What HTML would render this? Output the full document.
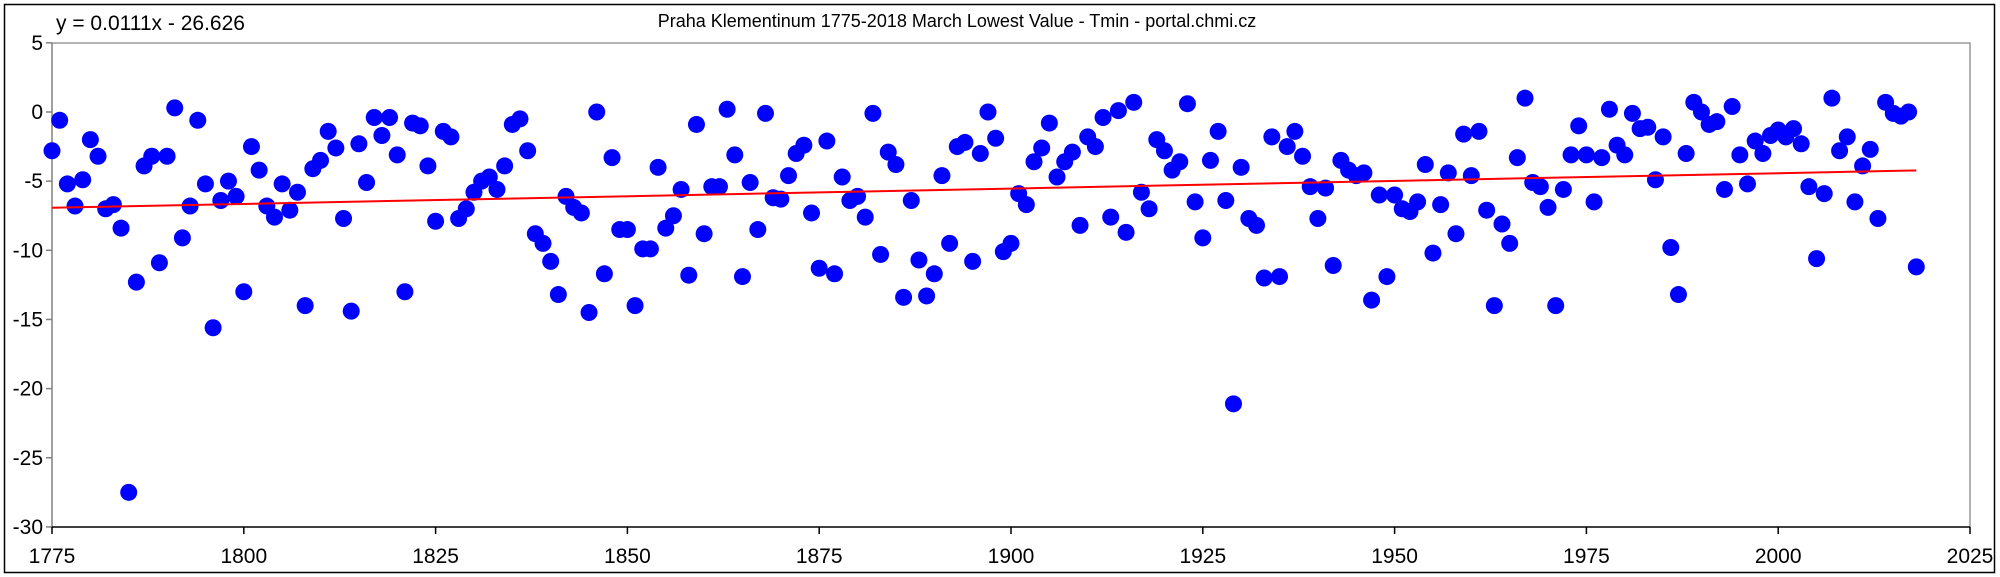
<!DOCTYPE html>
<html><head><meta charset="utf-8"><style>
html,body{margin:0;padding:0;background:#fff;}
svg{display:block;font-family:"Liberation Sans",Arial,sans-serif;}
</style></head><body>
<svg id="c" width="2000" height="577" viewBox="0 0 2000 577" xmlns="http://www.w3.org/2000/svg">
<rect x="0" y="0" width="2000" height="577" fill="#fff"/>
<rect x="4.5" y="4.5" width="1990" height="568" fill="none" stroke="#000" stroke-width="1.5"/>
<polyline points="52,43 1970,43 1970,527" fill="none" stroke="#999" stroke-width="1.5"/>
<line x1="52" y1="43" x2="52" y2="527" stroke="#808080" stroke-width="1.5"/>
<line x1="52" y1="527" x2="1970" y2="527" stroke="#000" stroke-width="1.5"/>
<text x="56" y="30" font-size="21">y = 0.0111x - 26.626</text>
<text x="957" y="27" font-size="18" text-anchor="middle">Praha Klementinum 1775-2018 March Lowest Value - Tmin - portal.chmi.cz</text>
<g id="ax" font-size="21"></g>
<g id="pts" fill="#0000ff"></g>
<line id="tr" stroke="#ff0000" stroke-width="2"/>
</svg>
<script>
var d=[-2.8,-0.6,-5.2,-6.8,-4.9,-2.0,-3.2,-7.0,-6.7,-8.4,-27.5,-12.3,-3.9,-3.2,-10.9,-3.2,0.3,-9.1,-6.8,-0.6,-5.2,-15.6,-6.4,-5.0,-6.1,-13.0,-2.5,-4.2,-6.8,-7.6,-5.2,-7.1,-5.8,-14.0,-4.1,-3.5,-1.4,-2.6,-7.7,-14.4,-2.3,-5.1,-0.4,-1.7,-0.4,-3.1,-13.0,-0.8,-1.0,-3.9,-7.9,-1.4,-1.8,-7.7,-7.0,-5.8,-5.0,-4.7,-5.6,-3.9,-0.9,-0.5,-2.8,-8.8,-9.5,-10.8,-13.2,-6.1,-6.9,-7.3,-14.5,0.0,-11.7,-3.3,-8.5,-8.5,-14.0,-9.9,-9.9,-4.0,-8.4,-7.5,-5.6,-11.8,-0.9,-8.8,-5.4,-5.4,0.2,-3.1,-11.9,-5.1,-8.5,-0.1,-6.2,-6.3,-4.6,-3.0,-2.4,-7.3,-11.3,-2.1,-11.7,-4.7,-6.4,-6.1,-7.6,-0.1,-10.3,-2.9,-3.8,-13.4,-6.4,-10.7,-13.3,-11.7,-4.6,-9.5,-2.5,-2.2,-10.8,-3.0,0.0,-1.9,-10.1,-9.5,-5.9,-6.7,-3.6,-2.6,-0.8,-4.7,-3.6,-2.9,-8.2,-1.8,-2.5,-0.4,-7.6,0.1,-8.7,0.7,-5.8,-7.0,-2.0,-2.8,-4.2,-3.6,0.6,-6.5,-9.1,-3.5,-1.4,-6.4,-21.1,-4.0,-7.7,-8.2,-12.0,-1.8,-11.9,-2.5,-1.4,-3.2,-5.4,-7.7,-5.5,-11.1,-3.5,-4.2,-4.6,-4.4,-13.6,-6.0,-11.9,-6.0,-7.0,-7.2,-6.5,-3.8,-10.2,-6.7,-4.4,-8.8,-1.6,-4.6,-1.4,-7.1,-14.0,-8.1,-9.5,-3.3,1.0,-5.1,-5.4,-6.9,-14.0,-5.6,-3.1,-1.0,-3.1,-6.5,-3.3,0.2,-2.4,-3.1,-0.1,-1.2,-1.1,-4.9,-1.8,-9.8,-13.2,-3.0,0.7,0.0,-0.9,-0.7,-5.6,0.4,-3.1,-5.2,-2.1,-3.0,-1.7,-1.3,-1.8,-1.2,-2.3,-5.4,-10.6,-5.9,1.0,-2.8,-1.8,-6.5,-3.9,-2.7,-7.7,0.7,-0.1,-0.3,0.0,-11.2];
function X(y){return 52+(y-1775)*7.672;}
function Y(v){return 112-v*13.83;}
var ns="http://www.w3.org/2000/svg";
var g=document.getElementById('pts');
for(var i=0;i<d.length;i++){var c=document.createElementNS(ns,'circle');c.setAttribute('cx',X(1775+i));c.setAttribute('cy',Y(d[i]));c.setAttribute('r',8.5);g.appendChild(c);}
var t=document.getElementById('tr');
t.setAttribute('x1',X(1775));t.setAttribute('y1',Y(0.0111*1775-26.626));
t.setAttribute('x2',X(2018));t.setAttribute('y2',Y(0.0111*2018-26.626));
var ax=document.getElementById('ax');
for(var v=5;v>=-30;v-=5){var y=Y(v);
 var l=document.createElementNS(ns,'line');l.setAttribute('x1',46);l.setAttribute('x2',52);l.setAttribute('y1',y);l.setAttribute('y2',y);l.setAttribute('stroke','#808080');l.setAttribute('stroke-width','1.5');ax.appendChild(l);
 var tx=document.createElementNS(ns,'text');tx.setAttribute('x',43);tx.setAttribute('y',y+7);tx.setAttribute('text-anchor','end');tx.textContent=v;ax.appendChild(tx);}
for(var yr=1775;yr<=2025;yr+=25){var x=X(yr);
 var l=document.createElementNS(ns,'line');l.setAttribute('x1',x);l.setAttribute('x2',x);l.setAttribute('y1',527);l.setAttribute('y2',534);l.setAttribute('stroke','#000');l.setAttribute('stroke-width','1.5');ax.appendChild(l);
 var tx=document.createElementNS(ns,'text');tx.setAttribute('x',x);tx.setAttribute('y',563);tx.setAttribute('text-anchor','middle');tx.textContent=yr;ax.appendChild(tx);}
</script>
</body></html>
